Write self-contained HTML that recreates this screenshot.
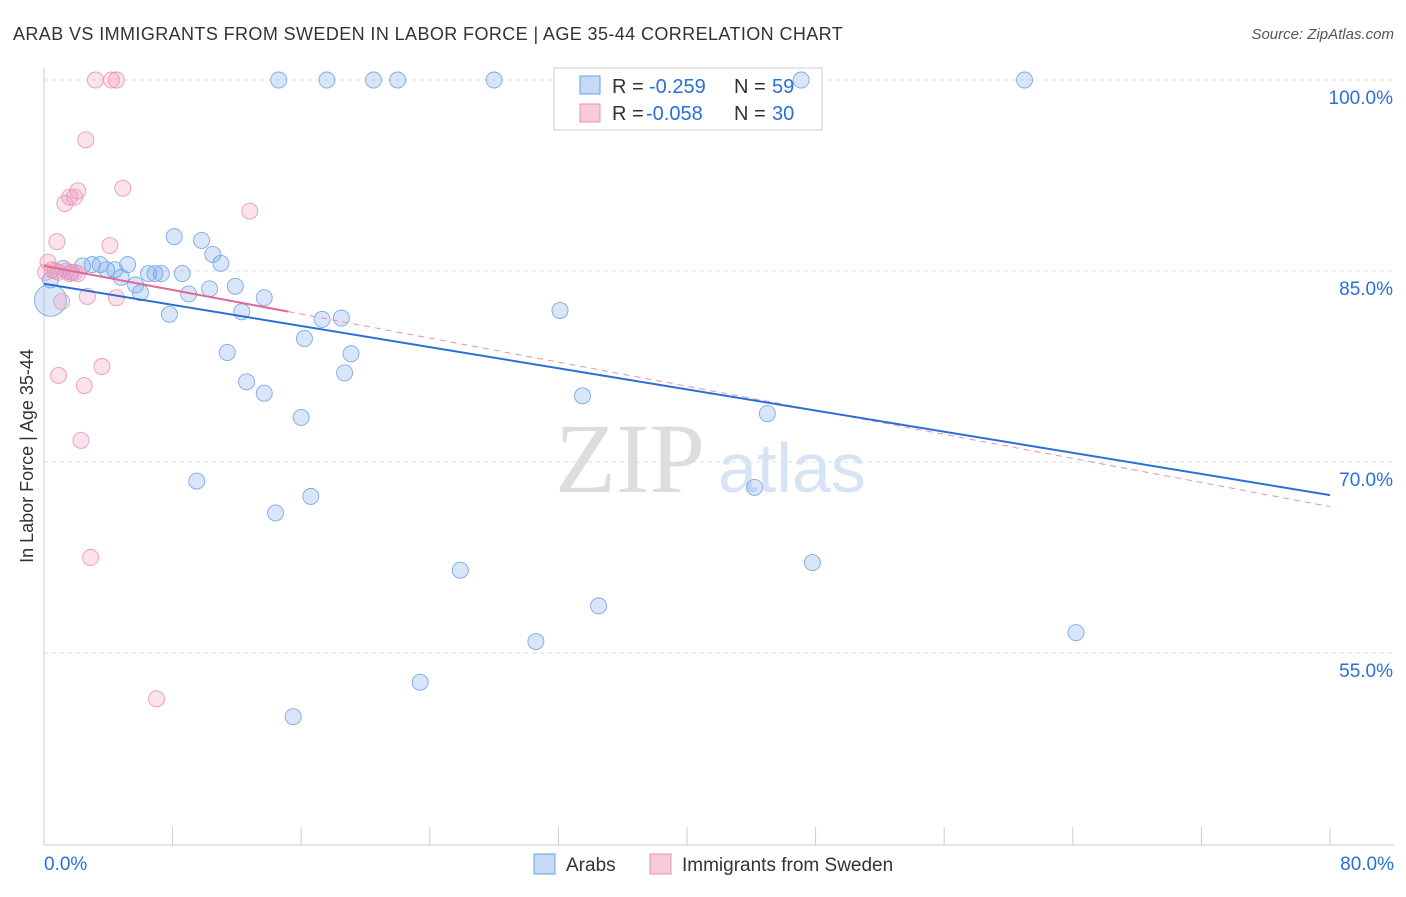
<!DOCTYPE html>
<html><head><meta charset="utf-8"><style>
body{margin:0;background:#fff;font-family:"Liberation Sans",sans-serif}
svg text{font-family:"Liberation Sans",sans-serif}
</style></head><body>
<svg id="c" width="1406" height="892">
<text x="13" y="40" font-size="18" fill="#333" letter-spacing="0.4">ARAB VS IMMIGRANTS FROM SWEDEN IN LABOR FORCE | AGE 35-44 CORRELATION CHART</text>
<text x="1394" y="39" font-size="15" fill="#555" text-anchor="end" font-style="italic">Source: ZipAtlas.com</text>
<text x="33" y="456" font-size="18" fill="#333" text-anchor="middle" transform="rotate(-90 33 456)">In Labor Force | Age 35-44</text>
<text x="555" y="492" font-size="100" fill="#ddd" style="font-family:'Liberation Serif',serif">ZIP</text>
<text x="718" y="492" font-size="70" fill="#d6e4f5">atlas</text>
<g id="grid"></g>
<g>
<rect x="554" y="68" width="268" height="62" fill="#fff" stroke="#ccc"/>
<rect x="580" y="76" width="20" height="18" fill="#c5daf6" stroke="#6a9fe0"/>
<rect x="580" y="104" width="20" height="18" fill="#f9cad9" stroke="#e890b0"/>
<text x="612" y="93" font-size="20" fill="#333">R =</text>
<text x="649" y="93" font-size="20" fill="#2b6fd6">-0.259</text>
<text x="734" y="93" font-size="20" fill="#333">N =</text>
<text x="772" y="93" font-size="20" fill="#2b6fd6">59</text>
<text x="612" y="120" font-size="20" fill="#333">R =</text>
<text x="646" y="120" font-size="20" fill="#2b6fd6">-0.058</text>
<text x="734" y="120" font-size="20" fill="#333">N =</text>
<text x="772" y="120" font-size="20" fill="#2b6fd6">30</text>
</g>
<g id="pts"></g><g id="lines"></g>
<g>
<rect x="534" y="854" width="21" height="20" fill="#c5daf6" stroke="#6a9fe0"/>
<text x="566" y="871" font-size="19" fill="#333">Arabs</text>
<rect x="650" y="854" width="21" height="20" fill="#f9cad9" stroke="#e890b0"/>
<text x="682" y="871" font-size="19" fill="#333">Immigrants from Sweden</text>
</g>
</svg>
<script>
const yTicks=[100,85,70,55];
const xTickLabels=["0.0%","80.0%"];
const blueX=[14.6,17.6,20.5,22.0,28.0,47.1,61.0,8.1,9.8,10.5,11.0,5.2,3.5,2.4,3.0,1.2,4.4,3.9,1.7,6.9,6.5,7.3,8.6,4.8,0.4,5.7,6.0,9.0,10.3,11.9,13.7,7.8,12.3,17.3,18.5,32.1,16.2,11.4,19.1,18.7,12.6,13.7,33.5,45.0,16.0,9.5,16.6,44.2,14.4,47.8,25.9,34.5,30.6,64.2,23.4,15.5,0.4];
const blueY=[100,100,100,100,100,100,100,87.7,87.4,86.3,85.6,85.5,85.5,85.4,85.5,85.2,85.1,85.1,84.9,84.8,84.8,84.8,84.8,84.5,84.3,83.9,83.3,83.2,83.6,83.8,82.9,81.6,81.8,81.2,81.3,81.9,79.7,78.6,78.5,77.0,76.3,75.4,75.2,73.8,73.5,68.5,67.3,68.0,66.0,62.1,61.5,58.7,55.9,56.6,52.7,50.0,82.7];
const pinkX=[3.2,4.2,4.5,2.6,4.9,2.1,1.6,1.9,1.3,12.8,0.8,4.1,0.25,0.5,0.9,1.4,1.6,2.1,1.1,2.7,4.5,3.6,0.9,2.5,2.3,2.9,7.0,0.7,1.9,0.1];
const pinkY=[100,100,100,95.3,91.5,91.3,90.8,90.8,90.3,89.7,87.3,87.0,85.7,85.1,84.9,85.0,84.8,84.8,82.6,83.0,82.9,77.5,76.8,76.0,71.7,62.5,51.4,85.0,84.9,84.9];
const blueTrend=[84.0,67.4];
const pinkTrend=[85.4,66.5];
const X=v=>44+v*16.075, Y=v=>80+(100-v)*12.733;
const NS="http://www.w3.org/2000/svg";
function mk(t,a,p){const e=document.createElementNS(NS,t);for(const k in a)e.setAttribute(k,a[k]);p.appendChild(e);return e;}
const g=document.getElementById('grid');
yTicks.forEach(t=>{
 const l=mk('line',{x1:44,x2:1394,y1:Y(t),y2:Y(t),stroke:'#ddd','stroke-dasharray':'4,4'},g);
 
 
 const tx=mk('text',{x:1393,y:Y(t)+24,'font-size':19,fill:'#2b6fd6','text-anchor':'end'},g);
 tx.textContent=t.toFixed(1)+'%';
 
 
});
const ax=mk('line',{x1:44,x2:44,y1:68,y2:845,stroke:'#ccc'},g);


const bx=mk('line',{x1:44,x2:1394,y1:845,y2:845,stroke:'#ccc'},g);


for(let i=0;i<=10;i++){const t=mk('line',{x1:X(i*8),x2:X(i*8),y1:827,y2:845,stroke:'#ccc'},g);
 
 }
[[0,'start',44],[80,'end',1394]].forEach((d,i)=>{const t=mk('text',{x:d[2],y:870,'font-size':19,fill:'#2b6fd6','text-anchor':d[1]},g);t.textContent=xTickLabels[i];
 
 });
const p=document.getElementById('pts');
blueX.forEach((x,i)=>{const c=mk('circle',{cx:X(x),cy:Y(blueY[i]),r:i==blueX.length-1?16:8,fill:'rgba(120,165,235,0.28)',stroke:'#7aaae6','stroke-width':0.9},p);
 
 });
pinkX.forEach((x,i)=>{const c=mk('circle',{cx:X(x),cy:Y(pinkY[i]),r:8,fill:'rgba(240,150,185,0.28)',stroke:'#eb9ab8','stroke-width':0.9},p);
 
 });
const L=document.getElementById('lines');
const pt=x=>Y(pinkTrend[0]+(pinkTrend[1]-pinkTrend[0])*x/80);
const d1=mk('line',{x1:X(15.2),y1:pt(15.2),x2:X(80),y2:pt(80),stroke:'#e890b0','stroke-dasharray':'6,5','stroke-width':1},L);


const b=mk('line',{x1:X(0),y1:Y(blueTrend[0]),x2:X(80),y2:Y(blueTrend[1]),stroke:'#2b6fd6','stroke-width':2},L);


const s=mk('line',{x1:X(0),y1:pt(0),x2:X(15.2),y2:pt(15.2),stroke:'#e06a95','stroke-width':2},L);


</script>
</body></html>
